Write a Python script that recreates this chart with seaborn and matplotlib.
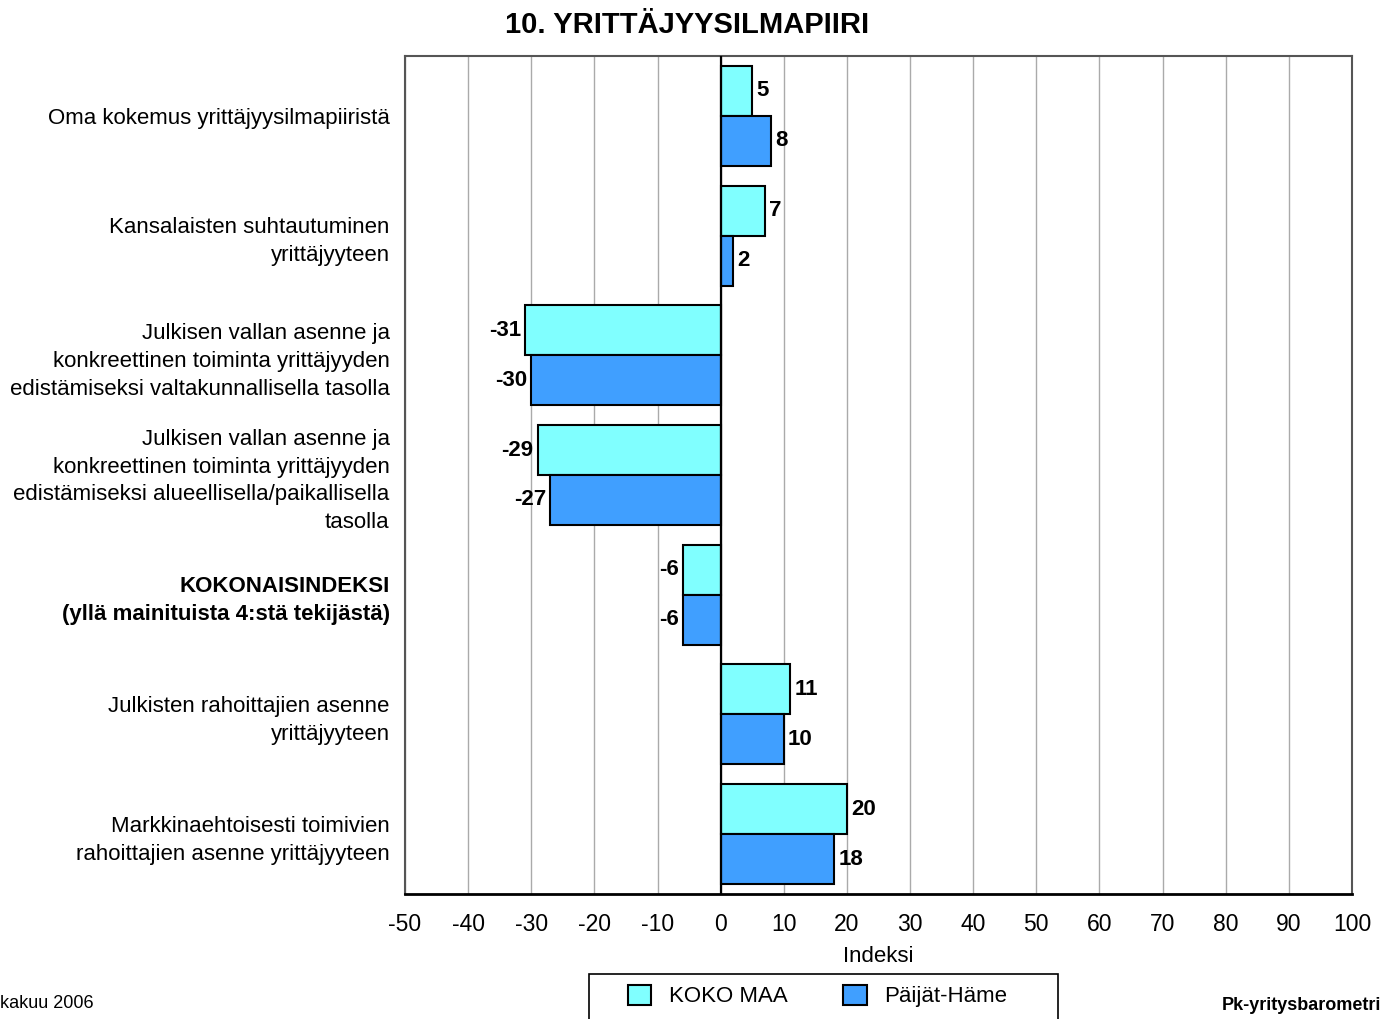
import pandas as pd
import matplotlib.pyplot as plt
import seaborn as sns
from matplotlib.patches import Rectangle

# data
categories = [
    "Oma kokemus yrittäjyysilmapiiristä",
    "Kansalaisten suhtautuminen\nyrittäjyyteen",
    "Julkisen vallan asenne ja\nkonkreettinen toiminta yrittäjyyden\nedistämiseksi valtakunnallisella tasolla",
    "Julkisen vallan asenne ja\nkonkreettinen toiminta yrittäjyyden\nedistämiseksi alueellisella/paikallisella\ntasolla",
    "KOKONAISINDEKSI\n(yllä mainituista 4:stä tekijästä)",
    "Julkisten rahoittajien asenne\nyrittäjyyteen",
    "Markkinaehtoisesti toimivien\nrahoittajien asenne yrittäjyyteen",
]
koko_maa = [5, 7, -31, -29, -6, 11, 20]
paijat_hame = [8, 2, -30, -27, -6, 10, 18]
series = ["KOKO MAA", "Päijät-Häme"]
colors = ["#80FFFF", "#409FFF"]

df = pd.DataFrame({
    "kategoria": categories * 2,
    "indeksi": koko_maa + paijat_hame,
    "sarja": [series[0]] * len(categories) + [series[1]] * len(categories),
})

sns.set_style("white")
plt.rcParams["font.family"] = ["Liberation Sans", "DejaVu Sans"]
plt.rcParams["text.color"] = "black"
plt.rcParams["xtick.color"] = "black"
plt.rcParams["ytick.color"] = "black"
plt.rcParams["axes.labelcolor"] = "black"

W, H = 1387, 1019
fig = plt.figure(figsize=(W / 100, H / 100), dpi=100)
ax = fig.add_axes([405 / W, 1 - 894 / H, (1352 - 405) / W, (894 - 56) / H])

sns.barplot(data=df, y="kategoria", x="indeksi", hue="sarja", orient="h",
            palette=colors, saturation=1, width=0.835, edgecolor="black",
            linewidth=1.5, ax=ax, legend=True, zorder=3)

ax.set_xlim(-50, 100)
ax.set_xticks(range(-50, 101, 10))
ax.set_xticklabels([str(v) for v in range(-50, 101, 10)], fontsize=16.5)
ax.set_yticks(range(len(categories)))
ax.set_yticklabels(categories, fontsize=16, linespacing=1.43)
ax.xaxis.grid(True, color="#AAAAAA", linewidth=1, zorder=0)
ax.axvline(0, color="black", linewidth=1.6, zorder=4)
ax.tick_params(axis="x", direction="out", length=7, width=1.2, color="black", pad=7)
ax.tick_params(axis="y", length=0, pad=11)
ax.set_ylabel("")
ax.set_xlabel("Indeksi", fontsize=16, labelpad=7)

for lab in ax.get_yticklabels():
    if lab.get_text().startswith("KOKONAIS"):
        lab.set_fontweight("bold")

for side in ["left", "right", "top"]:
    ax.spines[side].set_color("#555555")
    ax.spines[side].set_linewidth(1.5)
ax.spines["bottom"].set_color("black")
ax.spines["bottom"].set_linewidth(2)

for cont in ax.containers:
    ax.bar_label(cont, fmt="%d", padding=3, fontsize=16, fontweight="bold", zorder=5)

# legend: entries without frame, box drawn separately (wider than the entries)
handles, labels = ax.get_legend_handles_labels()
ax.legend_.remove()
fig.legend(handles, labels, loc="center left",
           bbox_to_anchor=(628 / W, 1 - 996 / H), ncol=2,
           fontsize=16, frameon=False,
           handlelength=1.05, handleheight=1.05, handletextpad=0.8,
           columnspacing=2.5, borderpad=0, borderaxespad=0)
fig.patches.append(Rectangle((589 / W, -0.02), (1058 - 589) / W, 0.02 + (1019 - 974) / H,
                             transform=fig.transFigure, fill=False,
                             edgecolor="black", linewidth=1.2))

fig.suptitle("10. YRITTÄJYYSILMAPIIRI", x=687 / W, y=1 - 25 / H,
             fontsize=21, fontweight="bold", va="center")
fig.text(0, 1 - 1004 / H, "kakuu 2006", fontsize=13, ha="left", va="center")
fig.text(1381 / W, 1 - 1006 / H, "Pk-yritysbarometri", fontsize=13,
         fontweight="bold", ha="right", va="center")

plt.savefig("out.png", dpi=100)
